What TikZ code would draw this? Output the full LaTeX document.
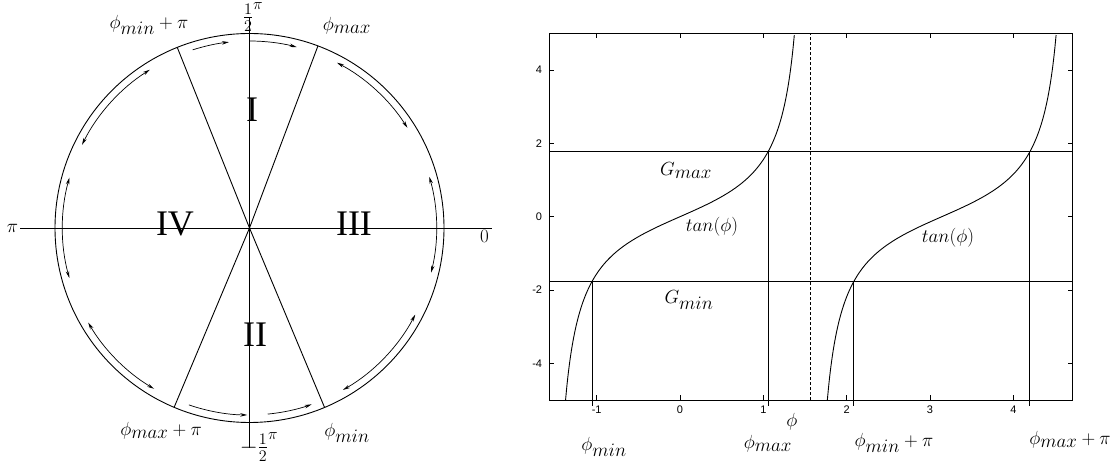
\RequirePackage{fix-cm}
\documentclass[tikz,border=0pt]{standalone}
\usepackage{fontspec}
\newfontfamily\tickfont{Liberation Sans}
\newfontfamily\romfont{Liberation Serif}
\usetikzlibrary{arrows.meta}
\begin{document}
\begin{tikzpicture}[x=1pt,y=1pt,line width=0.9pt,
  lbl/.style={font=\fontsize{19}{23}\selectfont, inner sep=0pt},
  frac/.style={font=\fontsize{23}{27}\selectfont, inner sep=0pt},
  roman/.style={font=\romfont\fontsize{36}{42}\selectfont, inner sep=0pt},
  tick/.style={font=\tickfont\fontsize{11}{13}\selectfont, inner sep=0pt},
  arr/.style={-{Stealth[length=7pt,width=3.5pt]}, line width=0.7pt},
  darr/.style={{Stealth[length=7pt,width=3.5pt]}-{Stealth[length=7pt,width=3.5pt]}, line width=0.7pt}]
\useasboundingbox (0,0) rectangle (1117,463);
% ---------- circle ----------
\begin{scope}[shift={(249.5,235)}]
  \coordinate (O) at (0,0);
  \draw (O) circle[radius=194.5];
  \coordinate (vt) at (0,210);
  \coordinate (vb) at (0,-220);
  \coordinate (hl) at (-229.5,0);
  \coordinate (hr) at (242.5,0);
  \draw (vt) -- (vb);
  \draw (hl) -- (hr);
  \coordinate (pmax) at (69.4:194.5);
  \coordinate (pmaxpi) at (247.2:194.5);
  \coordinate (pminpi) at (111.8:194.5);
  \coordinate (pmin) at (292.7:194.5);
  \draw (pmax) -- (O) -- (pmaxpi);
  \draw (pminpi) -- (O) -- (pmin);
  % arrows on inner arc
  \draw[arr] (90:187) arc[start angle=90, end angle=75.4, radius=187];
  \draw[arr] (107.7:187) arc[start angle=107.7, end angle=96.3, radius=187];
  \draw[darr] (122.2:187) arc[start angle=122.2, end angle=153.6, radius=187];
  \draw[darr] (164.4:187) arc[start angle=164.4, end angle=195.5, radius=187];
  \draw[darr] (210.4:187) arc[start angle=210.4, end angle=239.3, radius=187];
  \draw[arr] (251.1:187) arc[start angle=251.1, end angle=269.3, radius=187];
  \draw[arr] (275.6:187) arc[start angle=275.6, end angle=289.4, radius=187];
  \draw[darr] (300:187) arc[start angle=300, end angle=332.4, radius=187];
  \draw[darr] (-13.8:187) arc[start angle=-13.8, end angle=15.9, radius=187];
  \draw[darr] (32.4:187) arc[start angle=32.4, end angle=62.1, radius=187];
\end{scope}
\node[lbl] (lminpi) at (149,438) {$\phi_{\textstyle min}+\pi$};
\node[lbl] (lmax) at (347,437) {$\phi_{\textstyle max}$};
\node[lbl] (lmaxpi) at (161,32) {$\phi_{\textstyle max}+\pi$};
\node[lbl] (lmin) at (347,30) {$\phi_{\textstyle min}$};
\node[frac] (lhalf) at (253,446) {$\frac{1}{2}^{\pi}$};
\node[frac] (lmhalf) at (259,16) {$-\frac{1}{2}^{\pi}$};
\node[lbl] (lpi) at (12.5,235) {$\pi$};
\node[lbl] (lzero) at (484.5,227) {0};
\node[roman] (rI) at (252,353.5) {I};
\node[roman] (rIV) at (175,239) {IV};
\node[roman] (rIII) at (354,239) {III};
\node[roman] (rII) at (255,128) {II};
% ---------- tan plot ----------
\begin{scope}[shift={(680,246.3)}, x=83.33pt, y=36.67pt]
  \draw (-1.5708,-5) rectangle (4.7124,5);
  \foreach \t in {-1,...,4} {
    \draw (\t,-5) -- (\t,-4.864);
    \draw (\t,5) -- (\t,4.864);
    \node[tick] at (\t,-5.27) {\t};
  }
  \foreach \t in {-4,-2,0,2,4} {
    \draw (-1.5708,\t) -- (-1.5108,\t);
    \draw (4.7124,\t) -- (4.6524,\t);
    \node[tick,anchor=east] at (-1.65,\t) {\t};
  }
  \draw[dash pattern=on 3pt off 2pt] (1.5708,-5) -- (1.5708,5);
  \draw[domain=-1.3734:1.3734, samples=200, smooth] plot (\x, {tan(\x r)});
  \draw[domain=1.7682:4.5150, samples=200, smooth] plot (\x, {tan((\x-3.14159) r)});
  \draw (-1.5708,1.77) -- (4.7124,1.77);
  \draw (-1.5708,-1.77) -- (4.7124,-1.77);
  \draw (-1.056,-1.77) -- (-1.056,-5.16);
  \draw (1.056,1.77) -- (1.056,-5.16);
  \draw (2.086,-1.77) -- (2.086,-5.16);
  \draw (4.198,1.77) -- (4.198,-5.16);
  \node[lbl] (gmax) at (0.072,1.25) {$G_{\textstyle max}$};
  \node[lbl] (gmin) at (0.108,-2.27) {$G_{\textstyle min}$};
  \node[lbl] (tan1) at (0.384,-0.28) {$tan(\phi)$};
  \node[lbl] (tan2) at (3.216,-0.58) {$tan(\phi)$};
  \node[lbl] (phi) at (1.344,-5.6) {$\phi$};
  \node[lbl] (bmin) at (-0.912,-6.28) {$\phi_{\textstyle min}$};
  \node[lbl] (bmax) at (1.056,-6.2) {$\phi_{\textstyle max}$};
  \node[lbl] (bminpi) at (2.568,-6.17) {$\phi_{\textstyle min}+\pi$};
  \node[lbl] (bmaxpi) at (4.68,-6.09) {$\phi_{\textstyle max}+\pi$};
\end{scope}
\end{tikzpicture}
\end{document}
